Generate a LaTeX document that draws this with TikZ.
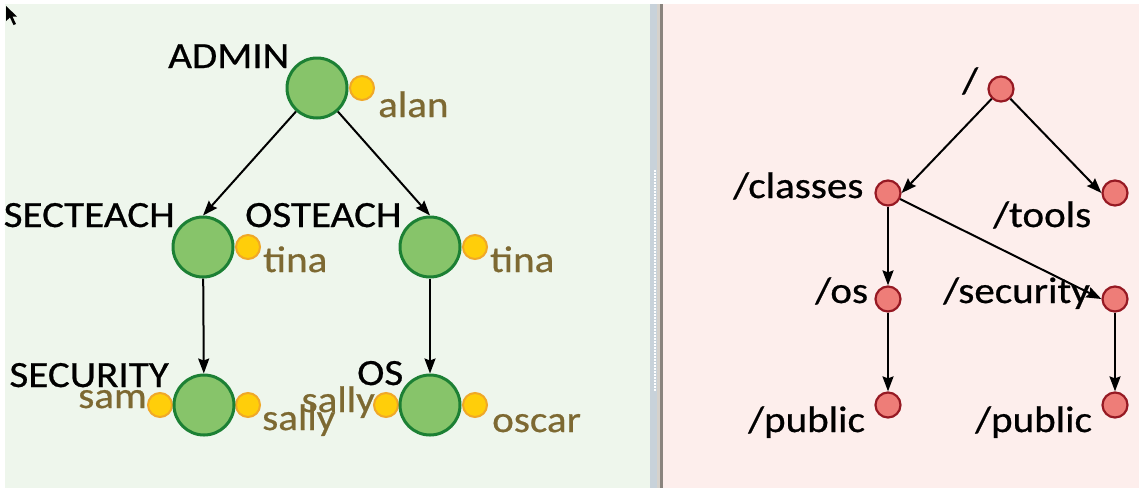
\documentclass[tikz,border=0pt]{standalone}
\usepackage{fontspec}
\setmainfont{Carlito}[FakeStretch=1.11,FakeBold=0.6]
\usetikzlibrary{arrows.meta}
\definecolor{lbg}{RGB}{238,246,236}
\definecolor{rbg}{RGB}{253,238,236}
\definecolor{divA}{RGB}{200,210,218}
\definecolor{divB}{RGB}{214,210,204}
\definecolor{divC}{RGB}{138,132,126}
\definecolor{gfill}{RGB}{135,196,106}
\definecolor{gborder}{RGB}{28,128,52}
\definecolor{yfill}{RGB}{255,206,10}
\definecolor{yborder}{RGB}{240,168,40}
\definecolor{olive}{RGB}{125,105,50}
\definecolor{rfill}{RGB}{238,125,120}
\definecolor{rborder}{RGB}{150,25,35}
\begin{document}
\begin{tikzpicture}[x=1pt,y=-1pt,
  gnode/.style={circle,draw=gborder,fill=gfill,line width=3pt,minimum size=60pt,inner sep=0pt},
  ynode/.style={circle,draw=yborder,fill=yfill,line width=2pt,minimum size=24pt,inner sep=0pt},
  rnode/.style={circle,draw=rborder,fill=rfill,line width=2.2pt,minimum size=25pt,inner sep=0pt},
  lbl/.style={inner sep=0pt,font=\fontsize{37}{40}\selectfont,text=black},
  olbl/.style={lbl,text=olive},
  arr/.style={-{Stealth[length=15pt,width=11pt,inset=2pt]},line width=2pt,black}]
\useasboundingbox (0,0) rectangle (1139,491);
\fill[white] (0,0) rectangle (1139,491);
\fill[lbg] (5,4) rectangle (650,488);
\fill[rbg] (663,4) rectangle (1139,488);
\fill[divA] (650,4) rectangle (657,488);
\fill[divB] (657,4) rectangle (660,488);
\fill[divC] (660,4) rectangle (662.5,488);
\draw[white,line width=2pt,dash pattern=on 1.5pt off 1.5pt] (655,170) -- (655,392);
% cursor
\fill[black] (6,6) -- (6,21) -- (10,17.5) -- (13.5,25) -- (16,24) -- (12.5,16.5) -- (17,16.5) -- cycle;

% ---- left panel ----
\node[ynode] (yalan) at (362,88) {};
\node[gnode] (admin) at (317,88) {};
\node[ynode] (ytina1) at (248,247) {};
\node[gnode] (secteach) at (203,247) {};
\node[ynode] (ytina2) at (475,247) {};
\node[gnode] (osteach) at (430,247) {};
\node[ynode] (ysam) at (160,405) {};
\node[ynode] (ysally1) at (248,405) {};
\node[gnode] (security) at (204,405) {};
\node[ynode] (ysally2) at (386,405) {};
\node[ynode] (yoscar) at (475,405) {};
\node[gnode] (os) at (430,405) {};

\node[lbl,anchor=base west] (tadmin) at (168,68) {ADMIN};
\node[olbl,anchor=base west] (talan) at (378,117) {alan};
\node[lbl,anchor=base east] (tsecteach) at (175,227) {SECTEACH};
\node[lbl,anchor=base west] (tosteach) at (245,227) {OSTEACH};
\node[olbl,anchor=base west] (ttina1) at (263,272) {tina};
\node[olbl,anchor=base west] (ttina2) at (490,272) {tina};
\node[lbl,anchor=base east] (tsecurity) at (169,387) {SECURITY};
\node[lbl,anchor=base west] (tos) at (357,385) {OS};
\node[olbl,anchor=base east] (tsam) at (147,408) {sam};
\node[olbl,anchor=base east] (tsally2) at (375,412) {sally};
\node[olbl,anchor=base west] (tsally1) at (262,430) {sally};
\node[olbl,anchor=base west] (toscar) at (492,432) {oscar};

\draw[arr] (admin) -- (secteach.north);
\draw[arr] (admin) -- (osteach.north);
\draw[arr] (secteach) -- (security);
\draw[arr] (osteach) -- (os);

% ---- right panel ----
\node[rnode] (root) at (1001,89) {};
\node[rnode] (classes) at (888,193) {};
\node[rnode] (tools) at (1115,193) {};
\node[rnode] (ros) at (888,299) {};
\node[rnode] (rsec) at (1115,299) {};
\node[rnode] (pub1) at (888,405) {};
\node[rnode] (pub2) at (1115,405) {};

\node[lbl,anchor=base west] (troot) at (962,93) {/};
\node[lbl,anchor=base west] (tclasses) at (733,198) {/classes};
\node[lbl,anchor=base west] (ttools) at (993,227) {/tools};
\node[lbl,anchor=base west] (tros) at (815,303) {/os};
\node[lbl,anchor=base west] (trsec) at (943,303) {/security};
\node[lbl,anchor=base west] (tpub1) at (748,432) {/public};
\node[lbl,anchor=base west] (tpub2) at (975,432) {/public};

\draw[arr] (root) -- (classes.east);
\draw[arr] (root) -- (tools.west);
\draw[arr] (classes) -- (ros);
\draw[arr] (classes) -- (rsec.west);
\draw[arr] (ros) -- (pub1);
\draw[arr] (rsec) -- (pub2);
\end{tikzpicture}
\end{document}
